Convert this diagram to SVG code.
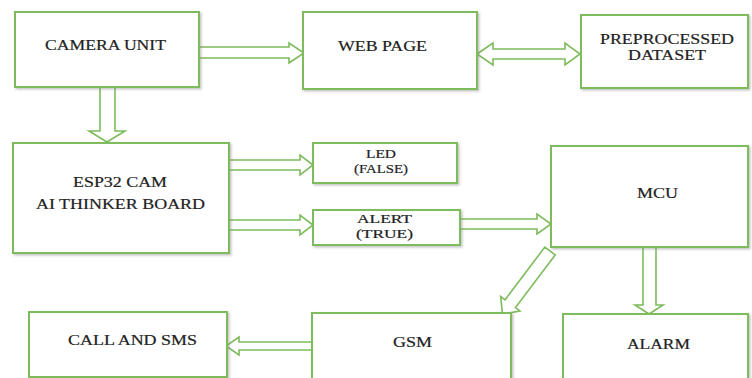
<svg xmlns="http://www.w3.org/2000/svg" width="752" height="378" viewBox="0 0 752 378">
<defs>
<filter id="sh" x="-10%" y="-10%" width="120%" height="130%">
<feDropShadow dx="1.5" dy="1.5" stdDeviation="1" flood-color="#888" flood-opacity="0.5"/>
</filter>
<style>
.box{fill:#fff;stroke:#7dbb5b;stroke-width:2;filter:url(#sh)}
.arr{fill:#fff;stroke:#7dbb5b;stroke-width:1.6;stroke-linejoin:miter}
text{font-family:"Liberation Serif","Times New Roman",serif;font-size:14px;fill:#222;stroke:#222;stroke-width:0.2;text-anchor:middle}
.sm{font-size:12.5px}
</style>
</defs>
<rect width="752" height="378" fill="#fff"/>
<g id="connectors">
<path class="arr" d="M199,47 H289 V43 L304,53 L289,63 V58 H199 Z"/>
<path class="arr" d="M477,54 L493,43 V49 H565 V43 L580,54 L565,65 V59 H493 V65 Z"/>
<path class="arr" d="M100,87 V131 H89 L107,142 L125,131 H115 V87 Z"/>
<path class="arr" d="M229,160 H300 V155 L313,165 L300,175 V170 H229 Z"/>
<path class="arr" d="M229,220 H300 V215 L313,225 L300,235 V230 H229 Z"/>
<path class="arr" d="M460,219 H537 V214 L551,224 L537,234 V229 H460 Z"/>
<path class="arr" d="M643,247 V305 H635 L649,314 L663,305 H656 V247 Z"/>
<path class="arr" d="M312,342 H239 V337 L226,346 L239,355 V350 H312 Z"/>
<path class="arr" transform="translate(550,251) rotate(127)" d="M0,-6.5 H66 V-12 L79,0 L66,12 V6.5 H0 Z"/>
</g>
<g id="camera">
<rect class="box" x="15" y="12" width="184" height="75"/>
<text x="105.5" y="50" textLength="121" lengthAdjust="spacingAndGlyphs">CAMERA UNIT</text>
</g>
<g id="webpage">
<rect class="box" x="303" y="12" width="174" height="77"/>
<text x="382.5" y="51" textLength="89" lengthAdjust="spacingAndGlyphs">WEB PAGE</text>
</g>
<g id="dataset">
<rect class="box" x="581" y="15" width="167" height="73"/>
<text x="667" y="44" textLength="134" lengthAdjust="spacingAndGlyphs">PREPROCESSED</text>
<text x="667" y="60" textLength="78" lengthAdjust="spacingAndGlyphs">DATASET</text>
</g>
<g id="esp32">
<rect class="box" x="13" y="143" width="216" height="110"/>
<text x="120" y="187" textLength="94" lengthAdjust="spacingAndGlyphs">ESP32 CAM</text>
<text x="120.5" y="209" textLength="169" lengthAdjust="spacingAndGlyphs">AI THINKER BOARD</text>
</g>
<g id="led">
<rect class="box" x="313" y="143" width="144" height="40"/>
<text class="sm" x="381" y="158" textLength="30" lengthAdjust="spacingAndGlyphs">LED</text>
<text class="sm" x="381" y="173" textLength="54" lengthAdjust="spacingAndGlyphs">(FALSE)</text>
</g>
<g id="alert">
<rect class="box" x="313" y="210" width="147" height="35"/>
<text class="sm" x="384.5" y="223" textLength="55" lengthAdjust="spacingAndGlyphs">ALERT</text>
<text class="sm" x="384.5" y="238" textLength="57" lengthAdjust="spacingAndGlyphs">(TRUE)</text>
</g>
<g id="mcu">
<rect class="box" x="551" y="146" width="197" height="101"/>
<text x="657.5" y="198" textLength="41" lengthAdjust="spacingAndGlyphs">MCU</text>
</g>
<g id="callsms">
<rect class="box" x="29" y="312" width="198" height="65"/>
<text x="132.5" y="345" textLength="129" lengthAdjust="spacingAndGlyphs">CALL AND SMS</text>
</g>
<g id="gsm">
<rect class="box" x="312" y="313" width="199" height="75"/>
<text x="412.5" y="347" textLength="39" lengthAdjust="spacingAndGlyphs">GSM</text>
</g>
<g id="alarm">
<rect class="box" x="563" y="314" width="185" height="75"/>
<text x="658.5" y="349" textLength="63" lengthAdjust="spacingAndGlyphs">ALARM</text>
</g>
</svg>
